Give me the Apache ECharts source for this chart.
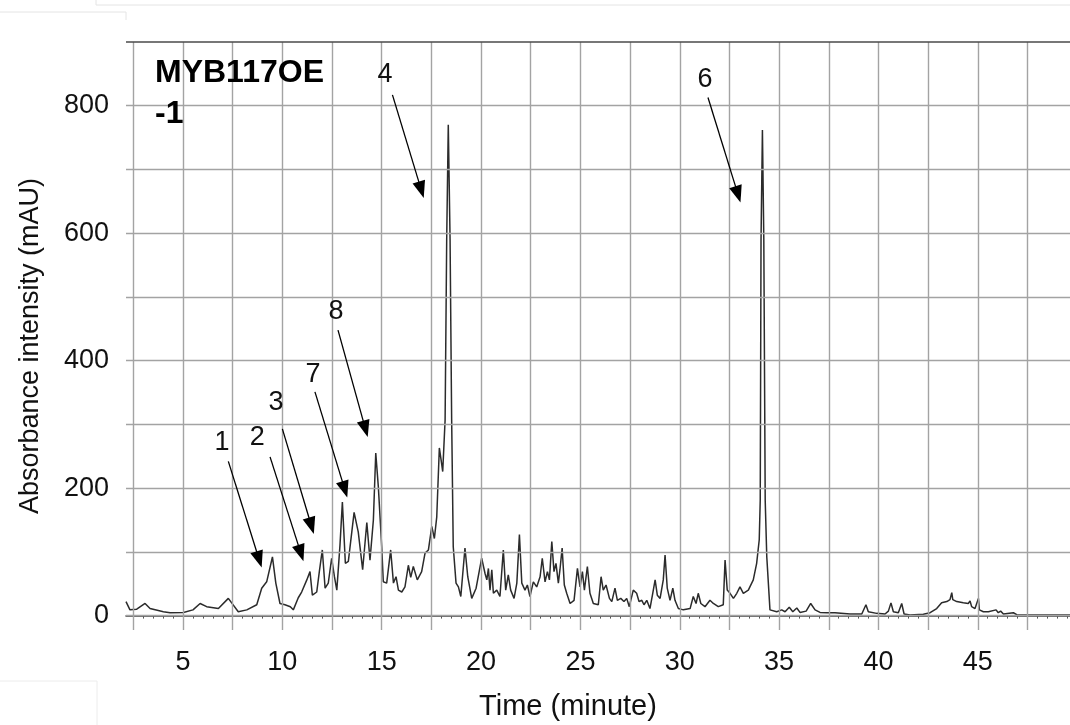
<!DOCTYPE html>
<html>
<head>
<meta charset="utf-8">
<script src="https://cdn.jsdelivr.net/npm/echarts@6/dist/echarts.min.js"></script>
<style>
  html, body { margin: 0; padding: 0; background: #ffffff; }
  #chart { width: 1070px; height: 725px; }
</style>
</head>
<body>
<div id="chart"></div>
<script>
const FONT = '"Liberation Sans", Arial, Helvetica, sans-serif';

// HPLC trace: [retention time (min), absorbance (mAU)]
const traceEarly = [
  [2.13,22],[2.33,9],[2.67,10],[3.09,19],[3.34,11],[4.01,6],[4.35,4.5],[5.02,5],[5.50,9],[5.86,19],
  [6.19,14],[6.78,11],[7.28,27],[7.78,6],[8.21,9],[8.71,17],[8.96,43],[9.21,53],[9.50,92],[9.67,51],
  [9.88,19],[10.13,17],[10.40,14],[10.55,9],[10.80,28],[10.97,37],[11.23,56],[11.39,69],[11.51,32],[11.73,37],[11.86,69],[12.01,103],
  [12.15,43],[12.31,51],[12.48,90],[12.62,61],[12.74,40],[12.90,111],[13.02,178],[13.17,82],[13.32,85],[13.61,162],
  [13.82,131],[14.04,72],[14.25,146],[14.41,87],[14.58,150],[14.70,255],[14.83,202],[15.00,108],[15.08,53],[15.25,51],
  [15.45,103],[15.59,51],[15.72,61],[15.84,40],[16.01,37],[16.17,45],[16.34,79],[16.46,60],[16.59,77],[16.79,56],
  [17.01,69],[17.18,98],[17.35,103],[17.52,140],[17.65,121],[17.77,155],[17.90,263],[17.99,244],[18.07,226],[18.19,307],
  [18.27,590],[18.35,770],[18.44,590],[18.52,307],[18.60,108],[18.74,51],[18.86,45],[18.98,30],[19.19,106],[19.33,61],
  [19.53,27],[19.75,43]
];
const traceMiddle = [
  [20.03,90],[20.20,66],[20.29,56],[20.37,74],[20.45,40],[20.54,72],[20.62,35],[20.79,40],[20.95,30],[21.12,103],
  [21.24,40],[21.37,64],[21.49,40],[21.66,27],[21.80,51],[21.93,127],[22.05,51],[22.21,40],[22.33,48],[22.46,30],
  [22.63,53],[22.80,45],[22.97,61],[23.08,90],[23.22,53],[23.34,69],[23.44,56],[23.56,116],[23.67,69],[23.77,82],
  [23.89,51],[23.97,72],[24.08,106],[24.19,48],[24.31,35],[24.48,19],[24.68,24],[24.85,74],[24.98,45],[25.10,69],
  [25.20,40],[25.35,77],[25.48,35],[25.65,19],[25.90,17],[26.04,61],[26.15,40],[26.29,48],[26.46,27],[26.58,22],
  [26.74,43],[26.86,24],[27.03,27],[27.19,22],[27.33,27],[27.46,14],[27.66,40],[27.83,35],[27.95,22],[28.09,24],
  [28.20,17],[28.34,24],[28.50,11],[28.64,35],[28.76,56],[28.87,32],[29.01,27],[29.17,56],[29.26,95],[29.37,43],
  [29.51,24],[29.65,43],[29.76,24],[29.93,11],[30.18,9],[30.52,11],[30.68,30],[30.82,19],[30.93,35],[31.06,19],
  [31.27,14],[31.52,24],[31.69,19],[31.94,14],[32.19,17],[32.28,87],[32.39,40],[32.53,35],[32.70,27],[32.87,35],
  [33.03,45],[33.20,35],[33.45,40],[33.70,56],[33.87,82],[34.00,119],[34.05,181],[34.09,590],[34.16,762],[34.23,590],
  [34.30,181],[34.38,92],[34.54,9]
];
const traceLate = [
  [34.88,6],[35.13,9],[35.30,6],[35.51,13],[35.69,6],[35.89,12],[36.05,5],[36.36,7],[36.59,19],[36.81,9],
  [37.06,5],[37.40,4.5],[37.81,4.5],[38.57,2.5],[39.16,2.5],[39.37,17],[39.49,6],[39.91,3.5],[40.33,2.5],[40.50,7],
  [40.63,20],[40.75,6],[41.00,4.5],[41.17,19],[41.29,2.5],[41.59,1],[42.26,2],[42.60,4.5],[42.93,11],[43.18,20],
  [43.44,22],[43.60,25],[43.69,36],[43.74,25],[43.94,22],[44.27,20],[44.52,19],[44.61,23],[44.69,14],[44.86,11],
  [45.03,27],[45.08,9],[45.28,6],[45.53,6],[45.92,9],[46.03,4.5],[46.15,7],[46.29,2.5],[46.79,4.5],[46.96,1.5],
  [47.80,1],[49.64,1]
];
const trace = traceEarly.concat(traceMiddle, traceLate);

// Axis labels and grid positions
const xLabelValues = [5, 10, 15, 20, 25, 30, 35, 40, 45];
const yLabelValues = [0, 200, 400, 600, 800];
const xGridValues = [2.5, 5, 7.5, 10, 12.5, 15, 17.5, 20, 22.5, 25, 27.5, 30, 32.5, 35, 37.5, 40, 42.5, 45, 47.5];
const yGridValues = [0, 100, 200, 300, 400, 500, 600, 700, 800];
const yTop = 900;

// Peak annotations: number, label position, arrow start, arrow end
const peakNames = ['1', '2', '3', '7', '8', '4', '6'];
const peakLabelAt = [[6.96, 271], [8.73, 280], [9.68, 334], [11.54, 378], [12.70, 477], [15.17, 849], [31.27, 841]];
const arrowFrom = [[7.28, 242], [9.38, 249], [10.00, 293], [11.64, 351], [12.80, 448], [15.54, 817], [31.42, 813]];
const arrowTo = [[8.83, 88], [10.93, 98], [11.46, 141], [13.14, 198], [14.18, 293], [16.99, 668], [32.93, 661]];

const minorTicks = [];
for (let t = 2.5; t <= 49.5 + 1e-9; t += 0.5) minorTicks.push(+t.toFixed(1));

const chart = echarts.init(document.getElementById('chart'), null, { renderer: 'canvas' });

const gridLineData = []
  .concat(yGridValues.map(v => ({ yAxis: v })))
  .concat(xGridValues.map(v => ({ xAxis: v })))
  .concat([{ yAxis: yTop, lineStyle: { color: '#4a4a4a', width: 1.6 } }]);

const option = {
  animation: false,
  backgroundColor: '#ffffff',
  grid: { left: 126, right: 0, top: 42, bottom: 95, containLabel: false },
  xAxis: {
    type: 'value',
    min: 2.13,
    max: 49.64,
    axisLine: { show: true, lineStyle: { color: '#3a3a3a', width: 1.5 } },
    axisTick: { show: true, customValues: minorTicks, length: 3, inside: false, lineStyle: { color: '#555', width: 1 } },
    axisLabel: { customValues: xLabelValues, fontSize: 27, color: '#111', fontFamily: FONT, margin: 19 },
    splitLine: { show: false }
  },
  yAxis: {
    type: 'value',
    min: -22.6,
    max: yTop,
    axisLine: { show: false },
    axisTick: { show: false },
    axisLabel: { customValues: yLabelValues, fontSize: 27, color: '#111', fontFamily: FONT, margin: 17 },
    splitLine: { show: false }
  },
  series: [
    {
      name: 'grid',
      type: 'line',
      data: [[2.13, 0]],
      symbol: 'none',
      lineStyle: { opacity: 0 },
      silent: true,
      z: 1,
      markLine: {
        silent: true,
        symbol: ['none', 'none'],
        label: { show: false },
        lineStyle: { color: '#a3a3a3', width: 1.4, type: 'solid' },
        data: gridLineData
      }
    },
    {
      name: 'Absorbance',
      type: 'line',
      data: trace,
      symbol: 'none',
      showSymbol: false,
      smooth: false,
      lineStyle: { color: '#2b2b2b', width: 1.5 },
      z: 3
    },
    {
      name: 'peaks',
      type: 'line',
      data: [],
      symbol: 'none',
      silent: true,
      z: 4,
      markLine: {
        silent: true,
        symbol: ['none', 'triangle'],
        symbolSize: [13, 17],
        label: { show: false },
        lineStyle: { color: '#000', width: 1.3, type: 'solid' },
        data: arrowFrom.map((p, i) => [{ coord: p }, { coord: arrowTo[i] }])
      },
      markPoint: {
        silent: true,
        symbol: 'circle',
        symbolSize: 1,
        itemStyle: { color: 'rgba(0,0,0,0)' },
        label: {
          show: true,
          position: 'inside',
          formatter: p => p.name,
          fontSize: 27,
          color: '#111',
          fontFamily: FONT
        },
        data: peakLabelAt.map((p, i) => ({ name: peakNames[i], coord: p }))
      }
    }
  ],
  graphic: [
    {
      type: 'text', left: 155, top: 53, z: 10,
      style: { text: 'MYB117OE\n-1', fontSize: 32, fontWeight: 'bold', fontFamily: FONT, fill: '#000', lineHeight: 41 }
    },
    {
      type: 'text', x: 31, y: 346, rotation: Math.PI / 2, z: 10,
      style: { text: 'Absorbance intensity (mAU)', fontSize: 27, fontFamily: FONT, fill: '#111', align: 'center', verticalAlign: 'middle' }
    },
    {
      type: 'text', x: 568, y: 707, z: 10,
      style: { text: 'Time (minute)', fontSize: 29, fontFamily: FONT, fill: '#111', align: 'center', verticalAlign: 'middle' }
    },
    { type: 'polyline', z: 0, silent: true, shape: { points: [[96, 0], [96, 5], [1070, 5]] }, style: { stroke: '#e4e4e4', lineWidth: 1, fill: null } },
    { type: 'polyline', z: 0, silent: true, shape: { points: [[0, 12], [126, 12], [126, 20]] }, style: { stroke: '#e4e4e4', lineWidth: 1, fill: null } },
    { type: 'polyline', z: 0, silent: true, shape: { points: [[0, 681], [97, 681], [97, 725]] }, style: { stroke: '#ececec', lineWidth: 1, fill: null } }
  ]
};

chart.setOption(option);
</script>
</body>
</html>
